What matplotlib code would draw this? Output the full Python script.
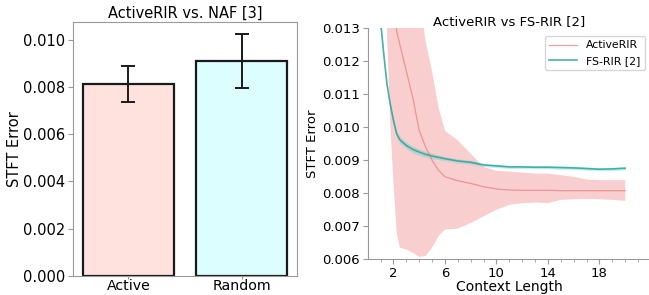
import matplotlib
matplotlib.use('Agg')

import matplotlib.pyplot as plt
import numpy as np

# left panel: bars
bar_labels = ['Active', 'Random']
bar_means = [0.00812, 0.00909]
bar_errs = [0.00078, 0.00114]
bar_colors = ['#ffe1dd', '#dcfeff']

# right panel: curves over context length
ctx = [1, 1.25, 1.5, 1.75, 2, 2.25, 2.5, 3, 3.5, 4, 4.5, 5, 5.5, 6, 7, 8, 9, 10,
       11, 12, 13, 14, 15, 16, 17, 18, 19, 20]
active_mean = [np.nan, np.nan, 0.0200, 0.0165, 0.0140, 0.0129, 0.0125, 0.0117,
               0.0109, 0.0099, 0.0094, 0.0090, 0.0087, 0.0085, 0.00838, 0.0083,
               0.0082, 0.00813, 0.0081, 0.00809, 0.00809, 0.00809, 0.00808,
               0.00808, 0.00808, 0.00808, 0.00808, 0.00808]
active_lo = [np.nan, np.nan, 0.0128, 0.0101, 0.0083, 0.0068, 0.00635, 0.0063,
             0.0062, 0.00607, 0.0061, 0.00635, 0.0067, 0.0069, 0.00693, 0.0071,
             0.0073, 0.0075, 0.00765, 0.0077, 0.00772, 0.0077, 0.0078, 0.00782,
             0.00783, 0.00782, 0.0078, 0.00777]
active_hi = [np.nan, np.nan, 0.0300, 0.0280, 0.0250, 0.0220, 0.0200, 0.0180,
             0.0160, 0.0140, 0.0126, 0.0117, 0.0106, 0.0099, 0.0096, 0.0092,
             0.0088, 0.00868, 0.00866, 0.00863, 0.0086, 0.0086, 0.00855, 0.0085,
             0.00842, 0.0084, 0.0084, 0.0084]
fsrir_mean = [0.0132, 0.0122, 0.0113, 0.0107, 0.0102, 0.0098, 0.00962, 0.00945,
              0.00933, 0.00925, 0.00918, 0.00913, 0.00909, 0.00905, 0.00898,
              0.00894, 0.00886, 0.00883, 0.0088, 0.0088, 0.00879, 0.00879,
              0.00878, 0.00877, 0.00875, 0.00873, 0.00874, 0.00876]
fsrir_std = [0.00006, 0.00006, 0.00007, 0.00008, 0.0001, 0.0001, 0.0001, 0.0001,
             0.0001, 0.0001, 0.00009, 0.00008, 0.00007, 0.00006, 0.00006,
             0.00006, 0.00005, 0.00005, 0.00005, 0.00005, 0.00005, 0.00005,
             0.00005, 0.00005, 0.00005, 0.00005, 0.00005, 0.00005]

fig = plt.figure(figsize=(6.49, 2.95), dpi=100)

# ---- left
ax1 = fig.add_axes([0.1125, 0.0644, 0.3451, 0.861])
ax1.bar(bar_labels, bar_means, yerr=bar_errs, width=0.8, color=bar_colors,
        edgecolor='#1a1a1a', linewidth=1.6, capsize=5,
        error_kw=dict(elinewidth=1.4, capthick=1.4, ecolor='#1a1a1a'))
ax1.set_title('ActiveRIR vs. NAF [3]', fontsize=10.5, pad=3)
ax1.set_ylabel('STFT Error', fontsize=10.5, labelpad=1)
ax1.set_yticks(np.arange(0, 0.0101, 0.002))
ax1.tick_params(labelsize=10.5, color='#999999', length=3.5, pad=2)
ax1.tick_params(axis='x', length=2, pad=0.5, labelsize=10.2)
for s in ax1.spines.values():
    s.set_color('#999999')

# ---- right
ax2 = fig.add_axes([0.5666, 0.121, 0.4364, 0.783])
x = np.array(ctx)
am = np.array(active_mean)
ax2.fill_between(x, active_lo, active_hi, color='#f08080', alpha=0.38,
                 linewidth=0)
ax2.plot(x, am, color='#e88080', lw=0.9, alpha=0.75, label='ActiveRIR')
fm = np.array(fsrir_mean)
fs = np.array(fsrir_std)
ax2.fill_between(x, fm - fs, fm + fs, color='#40d0c8', alpha=0.3, linewidth=0)
ax2.plot(x, fm, color='#2aa49c', lw=1.2, alpha=0.85, label='FS-RIR [2]')
ax2.set_xlim(0, 22)
ax2.set_ylim(0.006, 0.013)
ax2.set_xticks([2, 6, 10, 14, 18])
ax2.set_xticks(np.arange(1, 22), minor=True)
ax2.set_yticks(np.arange(0.006, 0.01301, 0.001))
ax2.set_title('ActiveRIR vs FS-RIR [2]', fontsize=9.5, pad=2)
ax2.set_ylabel('STFT Error', fontsize=9.5, labelpad=2)
ax2.set_xlabel('Context Length', fontsize=10, labelpad=0)
ax2.tick_params(labelsize=9.5, color='#999999', length=3.5, pad=2)
ax2.tick_params(which='minor', color='#999999', length=2)
ax2.spines['top'].set_visible(False)
ax2.spines['right'].set_visible(False)
ax2.spines['left'].set_color('#999999')
ax2.spines['bottom'].set_color('#999999')
leg = ax2.legend(fontsize=7.8, loc='upper right', bbox_to_anchor=(0.997, 0.99),
                 handlelength=2.6)

fig.savefig('out.png', dpi=100)
